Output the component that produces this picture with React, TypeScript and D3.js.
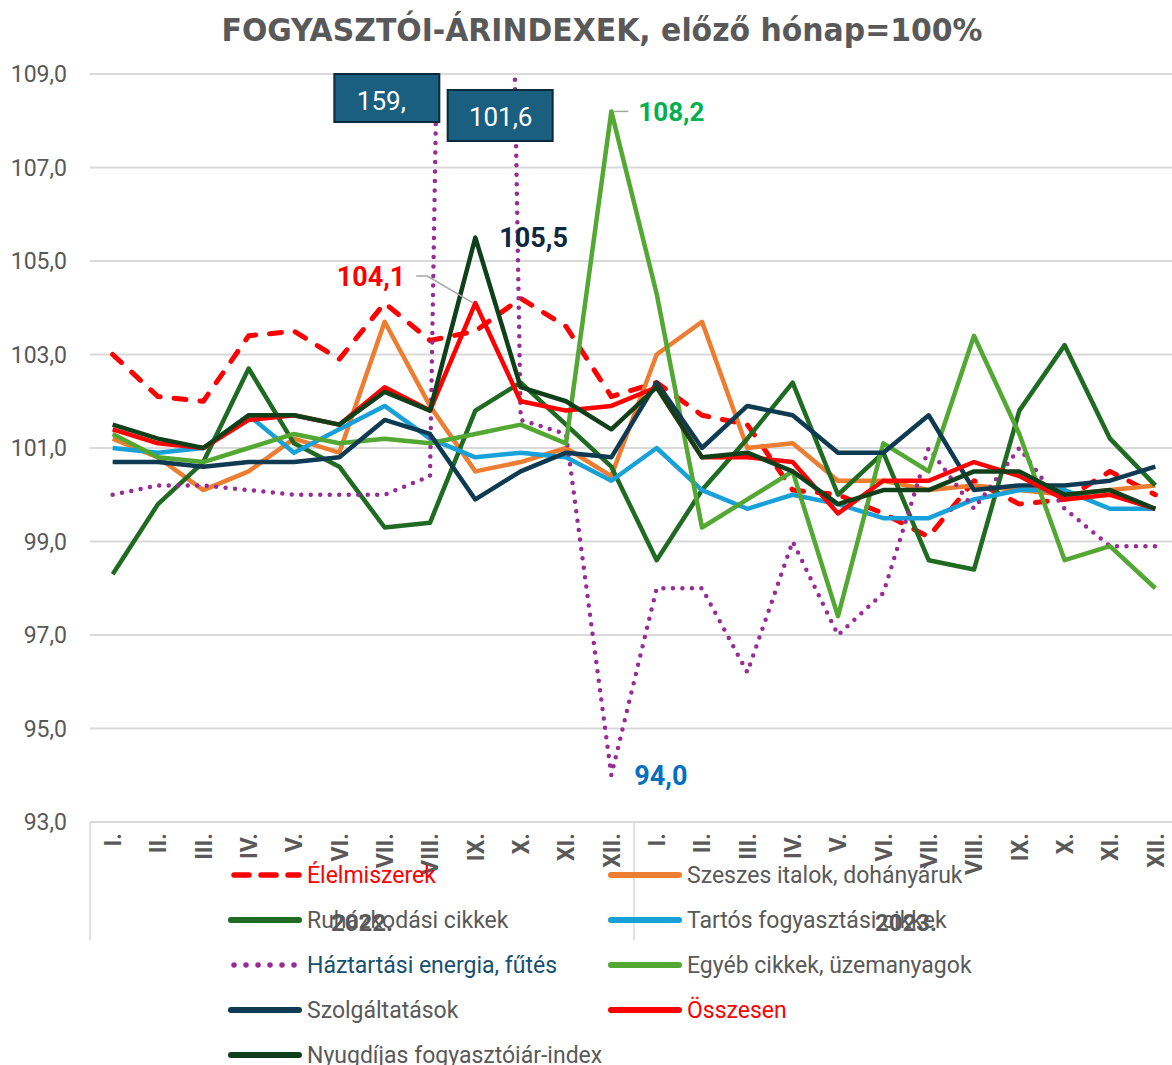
import React from 'react';
import * as d3 from 'd3';

// Hónapok, évek
const months = ['I.', 'II.', 'III.', 'IV.', 'V.', 'VI.', 'VII.', 'VIII.', 'IX.', 'X.', 'XI.', 'XII.'];
const years = ['2022.', '2023.'];
const categories = years.flatMap((yr) => months.map((m) => `${yr} ${m}`));
const yTicks = [93, 95, 97, 99, 101, 103, 105, 107, 109];

// előző hónap = 100%
const elelmiszerek = [103.0, 102.1, 102.0, 103.4, 103.5, 102.9, 104.1, 103.3, 103.5, 104.2, 103.6, 102.1,
  102.4, 101.7, 101.5, 100.1, 100.0, 99.6, 99.1, 100.3, 99.8, 99.9, 100.5, 100.0];
const szeszes = [101.2, 100.8, 100.1, 100.5, 101.2, 100.9, 103.7, 101.9, 100.5, 100.7, 101.0, 100.4,
  103.0, 103.7, 101.0, 101.1, 100.3, 100.3, 100.1, 100.2, 100.1, 100.0, 100.1, 100.2];
const ruhazkodasi = [98.3, 99.8, 100.7, 102.7, 101.1, 100.6, 99.3, 99.4, 101.8, 102.4, 101.5, 100.6,
  98.6, 100.1, 101.2, 102.4, 100.0, 100.9, 98.6, 98.4, 101.8, 103.2, 101.2, 100.2];
const tartos = [101.0, 100.9, 101.0, 101.7, 100.9, 101.4, 101.9, 101.2, 100.8, 100.9, 100.8, 100.3,
  101.0, 100.1, 99.7, 100.0, 99.8, 99.5, 99.5, 99.9, 100.1, 100.1, 99.7, 99.7];
const haztartasi = [100.0, 100.2, 100.2, 100.1, 100.0, 100.0, 100.0, 100.4, 159.4, 101.6, 101.3, 94.0,
  98.0, 98.0, 96.2, 99.0, 97.0, 97.9, 101.0, 99.7, 101.0, 99.7, 98.9, 98.9];
const egyeb = [101.3, 100.8, 100.7, 101.0, 101.3, 101.1, 101.2, 101.1, 101.3, 101.5, 101.1, 108.2,
  104.3, 99.3, 99.9, 100.5, 97.4, 101.1, 100.5, 103.4, 101.3, 98.6, 98.9, 98.0];
const szolgaltatasok = [100.7, 100.7, 100.6, 100.7, 100.7, 100.8, 101.6, 101.3, 99.9, 100.5, 100.9, 100.8,
  102.4, 101.0, 101.9, 101.7, 100.9, 100.9, 101.7, 100.1, 100.2, 100.2, 100.3, 100.6];
const osszesen = [101.4, 101.1, 101.0, 101.6, 101.7, 101.5, 102.3, 101.8, 104.1, 102.0, 101.8, 101.9,
  102.3, 100.8, 100.8, 100.7, 99.6, 100.3, 100.3, 100.7, 100.4, 99.9, 100.0, 99.7];
const nyugdijas = [101.5, 101.2, 101.0, 101.7, 101.7, 101.5, 102.2, 101.8, 105.5, 102.3, 102.0, 101.4,
  102.3, 100.8, 100.9, 100.5, 99.8, 100.1, 100.1, 100.5, 100.5, 100.0, 100.1, 99.7];

const GRAY = '#595959';
const GRID = '#D9D9D9';

const series = [
  { name: 'Élelmiszerek', values: elelmiszerek, color: '#FF0000', width: 5, dash: '12 14', label: '#FF0000' },
  { name: 'Szeszes italok, dohányáruk', values: szeszes, color: '#ED7D31', width: 4.5, dash: null, label: GRAY },
  { name: 'Ruházkodási cikkek', values: ruhazkodasi, color: '#1F6B22', width: 4.5, dash: null, label: GRAY },
  { name: 'Tartós fogyasztási cikkek', values: tartos, color: '#18A0D8', width: 4.5, dash: null, label: GRAY },
  { name: 'Háztartási energia, fűtés', values: haztartasi, color: '#982B96', width: 4.5, dash: '0 9.5', label: '#17506E' },
  { name: 'Egyéb cikkek, üzemanyagok', values: egyeb, color: '#52A832', width: 4.5, dash: null, label: GRAY },
  { name: 'Szolgáltatások', values: szolgaltatasok, color: '#0E3A52', width: 4.5, dash: null, label: GRAY },
  { name: 'Összesen', values: osszesen, color: '#FF0000', width: 4.5, dash: null, label: '#FF0000' },
  { name: 'Nyugdíjas fogyasztóiár-index', values: nyugdijas, color: '#10401A', width: 4.5, dash: null, label: GRAY },
];

const W = 1172;
const H = 1065;
const plot = { left: 90, right: 1178, top: 74, bottom: 822 };

const fmt = (v: number) => v.toFixed(1).replace('.', ',');

const App = () => {
  const x = d3.scaleBand<string>().domain(categories).range([plot.left, plot.right]);
  const bw = x.bandwidth();
  const cx = (i: number) => (x(categories[i]) as number) + bw / 2;
  const y = d3.scaleLinear().domain([93, 109]).range([plot.bottom, plot.top]);

  const line = d3.line<number>()
    .x((_, i) => cx(i))
    .y((d) => y(d));

  const yearBounds = years.map((_, k) => [x(categories[k * 12]) as number, (x(categories[k * 12 + 11]) as number) + bw]);

  // címkék helye az adatpontokhoz képest
  const iIX = 8, iX = 9, iXII = 11;

  return (
    <svg width={W} height={H} style={{ position: 'absolute', left: 0, top: 0, background: '#fff' }}
      fontFamily="Roboto, 'Noto Sans', sans-serif">
      <defs>
        <clipPath id="plotClip">
          <rect x={plot.left} y={plot.top} width={plot.right - plot.left} height={plot.bottom - plot.top + 10} />
        </clipPath>
      </defs>

      <text x={602} y={41} textAnchor="middle" fontSize={32} fontWeight="bold" fill={GRAY}
        textLength={761} lengthAdjust="spacingAndGlyphs"
        fontFamily="'Liberation Sans Narrow', 'DejaVu Sans Condensed', Roboto, sans-serif">
        FOGYASZTÓI-ÁRINDEXEK, előző hónap=100%
      </text>

      {/* rácsvonalak és y tengely */}
      {yTicks.map((t) => (
        <g key={t}>
          <line x1={plot.left} x2={W} y1={y(t)} y2={y(t)} stroke={GRID} strokeWidth={2} />
          <text x={67} y={y(t)} dy="0.36em" textAnchor="end" fontSize={23} fill={GRAY}>{fmt(t)}</text>
        </g>
      ))}

      {/* x tengely: elválasztók */}
      {[plot.left, ...yearBounds.map((b) => b[1])].map((bx, k) => (
        <line key={k} x1={bx} x2={bx} y1={plot.bottom} y2={940} stroke={GRID} strokeWidth={1.5} />
      ))}

      {categories.map((c, i) => (
        <text key={c} transform={`translate(${cx(i)},${plot.bottom + 11}) rotate(-90)`} textAnchor="end"
          dy="0.36em" fontSize={23} fontWeight="bold" fill={GRAY}>
          {months[i % 12]}
        </text>
      ))}

      {years.map((yr, k) => (
        <text key={yr} x={(yearBounds[k][0] + yearBounds[k][1]) / 2} y={922} dy="0.36em" textAnchor="middle"
          fontSize={24} fontWeight="bold" fill={GRAY}>{yr}</text>
      ))}

      {/* adatsorok */}
      <g clipPath="url(#plotClip)">
        {series.map((s) => (
          <path key={s.name} d={line(s.values) as string} fill="none" stroke={s.color} strokeWidth={s.width}
            strokeDasharray={s.dash ?? undefined} strokeLinecap={s.dash ? 'round' : 'butt'} strokeLinejoin="round" />
        ))}
      </g>

      {/* adatfeliratok */}
      <polyline points={`${cx(iIX) - 2},${y(osszesen[iIX])} ${cx(iIX) - 48},${y(osszesen[iIX]) - 27} ${cx(iIX) - 59},${y(osszesen[iIX]) - 27}`}
        fill="none" stroke="#A6A6A6" strokeWidth={1.5} />
      <text x={cx(iIX) - 70} y={y(osszesen[iIX]) - 27} dy="0.36em" textAnchor="end" fontSize={27} fontWeight="bold" fill="#FF0000">
        {fmt(osszesen[iIX])}
      </text>
      <text x={cx(iIX) + 24} y={y(nyugdijas[iIX])} dy="0.36em" fontSize={27} fontWeight="bold" fill="#0E2841">
        {fmt(nyugdijas[iIX])}
      </text>
      <line x1={cx(iXII) + 2} x2={cx(iXII) + 17} y1={y(egyeb[iXII])} y2={y(egyeb[iXII])} stroke="#A6A6A6" strokeWidth={1.5} />
      <text x={cx(iXII) + 27} y={y(egyeb[iXII])} dy="0.36em" fontSize={26} fontWeight="bold" fill="#00B050">
        {fmt(egyeb[iXII])}
      </text>
      <text x={cx(iXII) + 23} y={y(haztartasi[iXII])} dy="0.36em" fontSize={27} fontWeight="bold" fill="#0070C0">
        {fmt(haztartasi[iXII])}
      </text>

      {/* a tartományon kívüli pontok dobozai */}
      <g>
        <rect x={cx(iIX) - 141} y={y(109)} width={105} height={48} fill="#1A5E80" stroke="#0B2A3C" strokeWidth={2} />
        <text x={cx(iIX) - 94} y={y(109) + 27} dy="0.36em" textAnchor="middle" fontSize={26} fill="#fff">
          {fmt(haztartasi[iIX]).split(',')[0] + ','}
        </text>
        <rect x={cx(iX) - 73} y={y(109) + 16} width={105} height={51} fill="#1A5E80" stroke="#0B2A3C" strokeWidth={2} />
        <text x={cx(iX) - 20} y={y(109) + 43} dy="0.36em" textAnchor="middle" fontSize={26} fill="#fff">
          {fmt(haztartasi[iX])}
        </text>
      </g>

      {/* jelmagyarázat */}
      {series.map((s, i) => {
        const col = i % 2;
        const row = Math.floor(i / 2);
        const lx = col === 0 ? 231 : 611;
        const ly = 875 + row * 45;
        return (
          <g key={s.name}>
            <line x1={lx + (s.dash ? 3 : 0)} x2={lx + 68} y1={ly} y2={ly} stroke={s.color} strokeWidth={s.dash ? 5.5 : 6}
              strokeDasharray={s.dash ? (s.dash === '0 9.5' ? '0 12' : '15 12') : undefined} strokeLinecap="round" />
            <text x={lx + 76} y={ly} dy="0.36em" fontSize={23} fill={s.label}>{s.name}</text>
          </g>
        );
      })}
    </svg>
  );
};

export default App;
